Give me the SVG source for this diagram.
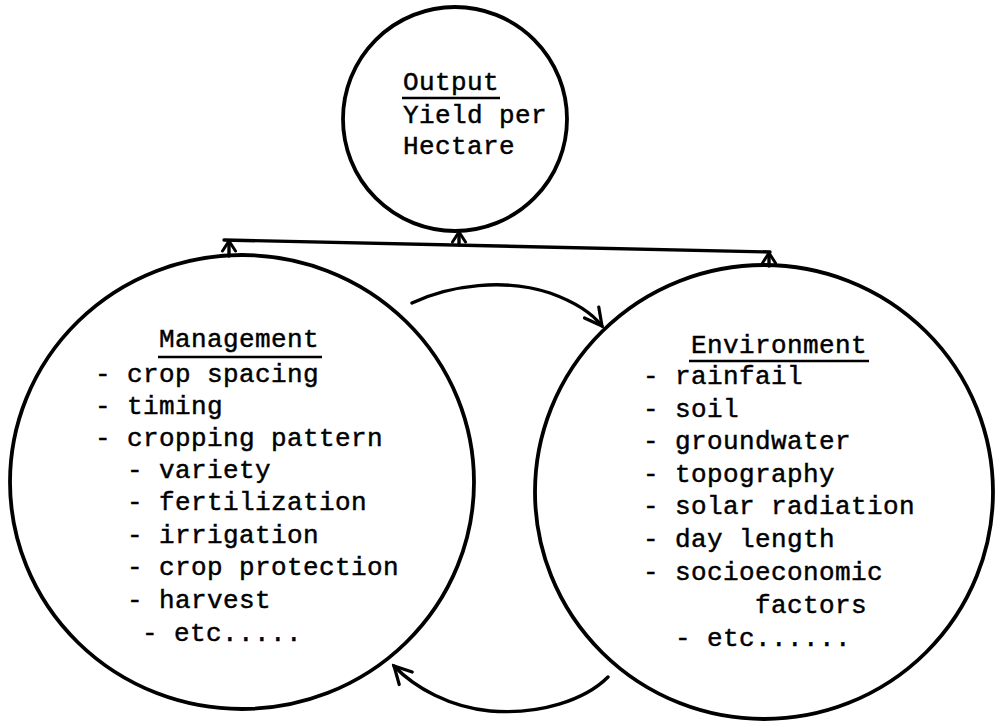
<svg xmlns="http://www.w3.org/2000/svg" width="995" height="724" viewBox="0 0 995 724">
  <style>
    .ring { fill: none; stroke: #000; stroke-width: 3.8; }
    .wire { fill: none; stroke: #000; stroke-width: 3.4; stroke-linecap: round; }
    .txt { font-family: "Liberation Mono", "Courier New", monospace; font-size: 26px; letter-spacing: 0.4px; fill: #000; stroke: #000; stroke-width: 0.45; }
    .ul { stroke: #000; stroke-width: 2.6; }
  </style>
  <defs>
    <marker id="chev" viewBox="0 0 14 16" refX="12" refY="8" markerWidth="14" markerHeight="16" markerUnits="userSpaceOnUse" orient="auto">
      <path d="M2,1.5 L12,8 L2,14.5" fill="none" stroke="#000" stroke-width="3" stroke-linecap="round"/>
    </marker>
    <marker id="head" viewBox="0 0 22 22" refX="19" refY="11" markerWidth="22" markerHeight="22" markerUnits="userSpaceOnUse" orient="auto">
      <path d="M2,2 L19,11 L2,20" fill="none" stroke="#000" stroke-width="3.2" stroke-linecap="round"/>
    </marker>
  </defs>
  <rect width="995" height="724" fill="#fff"/>

  <g id="output">
    <ellipse class="ring" cx="455" cy="119" rx="112" ry="112"/>
    <text class="txt" x="403" y="90">Output</text>
    <line class="ul" x1="402" y1="98" x2="500" y2="98"/>
    <text class="txt" x="403" y="123">Yield per</text>
    <text class="txt" x="403" y="154">Hectare</text>
  </g>

  <g id="management">
    <ellipse class="ring" cx="242" cy="482" rx="232" ry="227"/>
    <text class="txt" x="159" y="347">Management</text>
    <line class="ul" x1="158" y1="357" x2="322" y2="357"/>
    <text class="txt" x="95" y="382">- crop spacing</text>
    <text class="txt" x="95" y="414">- timing</text>
    <text class="txt" x="95" y="446">- cropping pattern</text>
    <text class="txt" x="127" y="478">- variety</text>
    <text class="txt" x="127" y="510">- fertilization</text>
    <text class="txt" x="127" y="543">- irrigation</text>
    <text class="txt" x="127" y="575">- crop protection</text>
    <text class="txt" x="127" y="608">- harvest</text>
    <text class="txt" x="142" y="641">- etc.....</text>
  </g>

  <g id="environment">
    <ellipse class="ring" cx="764" cy="492" rx="229" ry="227"/>
    <text class="txt" x="691" y="353">Environment</text>
    <line class="ul" x1="689" y1="361" x2="869" y2="361"/>
    <text class="txt" x="643" y="384">- rainfail</text>
    <text class="txt" x="643" y="417">- soil</text>
    <text class="txt" x="643" y="449">- groundwater</text>
    <text class="txt" x="643" y="482">- topography</text>
    <text class="txt" x="643" y="514">- solar radiation</text>
    <text class="txt" x="643" y="547">- day length</text>
    <text class="txt" x="643" y="580">- socioeconomic</text>
    <text class="txt" x="755" y="613">factors</text>
    <text class="txt" x="675" y="646">- etc......</text>
  </g>

  <g id="connectors">
    <!-- shared bus from the two inputs up to the output -->
    <path class="wire" d="M224,240 L770,252"/>
    <path class="wire" d="M229,256 L229,241" marker-end="url(#chev)"/>
    <path class="wire" d="M459,245 L459,232" marker-end="url(#chev)"/>
    <path class="wire" d="M769,266 L769,253" marker-end="url(#chev)"/>
    <!-- interaction loop between management and environment -->
    <path class="wire" d="M412,303 C450,285 505,278 550,293 C575,302 592,313 602,326" marker-end="url(#head)"/>
    <path class="wire" d="M608,677 C585,700 540,715 490,711 C450,707 415,688 394,666" marker-end="url(#head)"/>
  </g>
</svg>
